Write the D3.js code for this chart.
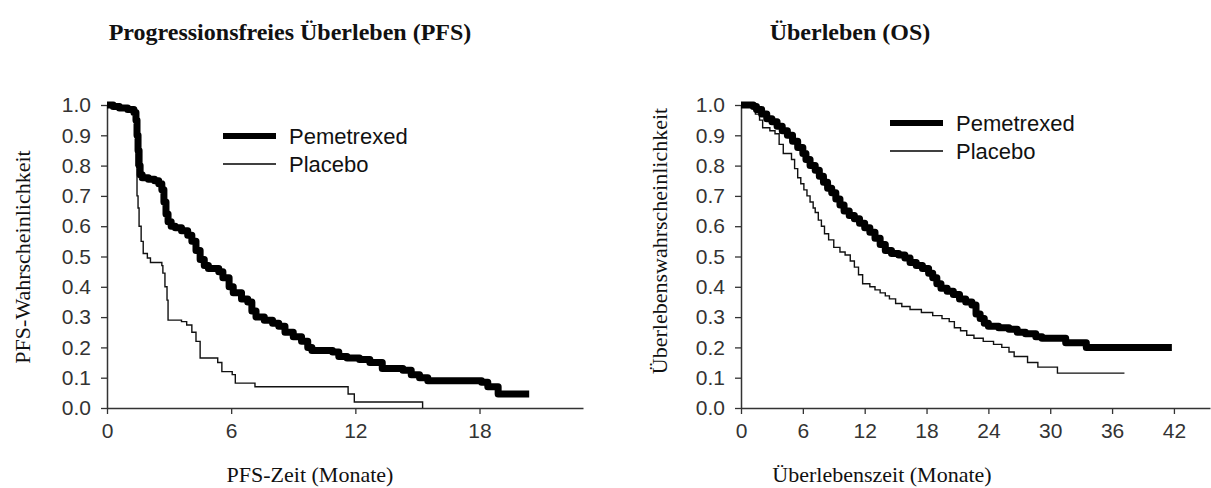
<!DOCTYPE html>
<html>
<head>
<meta charset="utf-8">
<script src="https://cdn.jsdelivr.net/npm/d3@7"></script>
<style>
  body { margin: 0; background: #fff; }
  svg text { fill: #111; }
</style>
</head>
<body>
<svg id="chart" width="1211" height="488"></svg>
<script>
// PFS: Pemetrexed
var pfs_pem_t = [0, 0.3, 0.6, 1.0, 1.3, 1.4, 1.45, 1.5, 1.55, 1.6, 1.7, 2.0, 2.3, 2.5, 2.65, 2.75, 2.85, 2.95, 3.1, 3.3, 3.6, 3.9, 4.1, 4.3, 4.5, 4.7, 4.9, 5.4, 5.6, 5.9, 6.1, 6.5, 6.8, 7.0, 7.2, 7.6, 8.0, 8.3, 8.6, 9.0, 9.4, 9.7, 9.9, 10.9, 11.2, 11.6, 12.2, 12.7, 13.3, 14.3, 14.7, 15.1, 15.5, 18.1, 18.4, 18.9];
var pfs_pem_s = [1.0, 0.995, 0.99, 0.985, 0.975, 0.95, 0.9, 0.85, 0.8, 0.77, 0.76, 0.755, 0.75, 0.74, 0.72, 0.68, 0.64, 0.615, 0.6, 0.595, 0.585, 0.57, 0.55, 0.52, 0.49, 0.47, 0.46, 0.45, 0.43, 0.4, 0.38, 0.36, 0.35, 0.32, 0.3, 0.29, 0.28, 0.27, 0.25, 0.235, 0.22, 0.2, 0.19, 0.185, 0.17, 0.165, 0.16, 0.15, 0.13, 0.125, 0.11, 0.1, 0.09, 0.085, 0.07, 0.046];
var pfs_pem_end = 20.4;

// PFS: Placebo
var pfs_pla_t = [0, 0.5, 1.0, 1.35, 1.4, 1.45, 1.5, 1.55, 1.65, 1.75, 1.95, 2.1, 2.65, 2.7, 2.8, 2.9, 2.95, 3.6, 3.85, 4.1, 4.3, 4.5, 5.35, 5.55, 6.05, 6.2, 7.15, 11.65, 11.95, 15.25];
var pfs_pla_s = [1.0, 0.99, 0.985, 0.97, 0.8, 0.7, 0.66, 0.6, 0.55, 0.51, 0.495, 0.48, 0.47, 0.445, 0.4, 0.356, 0.29, 0.285, 0.274, 0.25, 0.22, 0.165, 0.15, 0.12, 0.11, 0.082, 0.07, 0.046, 0.02, 0.0];
var pfs_pla_end = 15.25;

// OS: Pemetrexed
var os_pem_t = [0, 1.2, 1.5, 2.0, 2.5, 3.0, 3.5, 4.0, 4.5, 5.0, 5.5, 6.0, 6.3, 6.7, 7.2, 7.6, 8.0, 8.4, 8.8, 9.2, 9.6, 10.0, 10.5, 11.0, 11.5, 12.0, 12.5, 13.0, 13.5, 14.0, 14.6, 15.3, 15.9, 16.4, 17.0, 17.6, 18.2, 18.6, 19.0, 19.4, 20.0, 20.6, 21.2, 21.8, 22.4, 22.8, 23.2, 23.6, 24.0, 25.0, 26.0, 26.8, 27.6, 28.6, 29.2, 31.5, 33.5];
var os_pem_s = [1.0, 0.995, 0.985, 0.97, 0.955, 0.945, 0.93, 0.915, 0.9, 0.88, 0.86, 0.84, 0.82, 0.8, 0.785, 0.765, 0.745, 0.725, 0.71, 0.69, 0.67, 0.65, 0.635, 0.625, 0.61, 0.595, 0.58, 0.56, 0.54, 0.52, 0.51, 0.505, 0.495, 0.48, 0.47, 0.46, 0.445, 0.43, 0.41, 0.395, 0.385, 0.375, 0.36, 0.35, 0.34, 0.31, 0.295, 0.28, 0.27, 0.265, 0.26, 0.25, 0.245, 0.235, 0.23, 0.215, 0.2];
var os_pem_end = 41.8;

// OS: Placebo
var os_pla_t = [0, 1.0, 1.4, 1.8, 2.1, 2.8, 3.3, 3.7, 4.1, 4.9, 5.2, 5.5, 5.8, 6.1, 6.4, 6.7, 7.0, 7.2, 7.5, 7.8, 8.1, 8.5, 9.0, 9.6, 10.1, 10.6, 11.0, 11.4, 11.8, 12.5, 13.0, 13.5, 14.0, 14.4, 15.0, 15.6, 16.4, 17.5, 18.6, 19.5, 20.2, 20.7, 21.3, 21.9, 22.6, 23.5, 24.5, 25.3, 26.0, 26.5, 27.8, 28.8, 30.7];
var os_pla_s = [1.0, 0.99, 0.97, 0.95, 0.925, 0.915, 0.905, 0.87, 0.84, 0.82, 0.79, 0.76, 0.74, 0.72, 0.7, 0.68, 0.66, 0.645, 0.62, 0.6, 0.575, 0.555, 0.53, 0.515, 0.505, 0.485, 0.465, 0.44, 0.41, 0.4, 0.39, 0.38, 0.37, 0.36, 0.345, 0.335, 0.325, 0.315, 0.305, 0.295, 0.285, 0.265, 0.255, 0.24, 0.23, 0.22, 0.21, 0.2, 0.185, 0.17, 0.15, 0.135, 0.115];
var os_pla_end = 37.2;

var y_ticks   = [0, 0.1, 0.2, 0.3, 0.4, 0.5, 0.6, 0.7, 0.8, 0.9, 1.0];
var pfs_ticks = [0, 6, 12, 18];
var os_ticks  = [0, 6, 12, 18, 24, 30, 36, 42];
var series_names = ['Pemetrexed', 'Placebo'];

var svg = d3.select('#chart');
var serif = 'Liberation Serif, Times New Roman, serif';
var sans  = 'Liberation Sans, Arial, sans-serif';

function steps(t, s, end) {
  var pts = t.map(function(d, i) { return [d, s[i]]; });
  pts.push([end, s[s.length - 1]]);
  return pts;
}

function panel(opt) {
  var x = d3.scaleLinear().domain(opt.xdom).range(opt.xrange);
  var y = d3.scaleLinear().domain([0, 1]).range([408, 105]);

  var g = svg.append('g');

  var xa = g.append('g')
    .attr('transform', 'translate(0,408)')
    .call(d3.axisBottom(x).tickValues(opt.xticks).tickSize(6).tickSizeOuter(0).tickPadding(9));
  var ya = g.append('g')
    .attr('transform', 'translate(' + opt.xrange[0] + ',0)')
    .call(d3.axisLeft(y).tickValues(y_ticks).tickFormat(d3.format('.1f')).tickSize(6).tickSizeOuter(0).tickPadding(10));

  [xa, ya].forEach(function(a) {
    a.select('.domain').attr('stroke', '#333').attr('stroke-width', 1.5);
    a.selectAll('.tick line').attr('stroke', '#333').attr('stroke-width', 1.3);
    a.selectAll('.tick text')
      .style('font-family', sans)
      .style('font-size', '21px')
      .style('fill', '#333');
  });

  var line = d3.line()
    .x(function(d) { return x(d[0]); })
    .y(function(d) { return y(d[1]); })
    .curve(d3.curveStepAfter);

  g.append('path')
    .attr('d', line(opt.pla))
    .attr('fill', 'none')
    .attr('stroke', '#111')
    .attr('stroke-width', 1.4);

  g.append('path')
    .attr('d', line(opt.pem))
    .attr('fill', 'none')
    .attr('stroke', '#000')
    .attr('stroke-width', 7)
    .attr('stroke-linejoin', 'round');

  // legend
  var lg = g.append('g').attr('transform', 'translate(' + opt.legend[0] + ',' + opt.legend[1] + ')');
  lg.selectAll('line').data(series_names).enter().append('line')
    .attr('x1', 0).attr('x2', 53)
    .attr('y1', function(d, i) { return i * 28; })
    .attr('y2', function(d, i) { return i * 28; })
    .attr('stroke', '#000')
    .attr('stroke-width', function(d, i) { return i === 0 ? 6 : 1.4; });
  lg.selectAll('text').data(series_names).enter().append('text')
    .attr('x', 66)
    .attr('y', function(d, i) { return i * 28 + 8; })
    .text(function(d) { return d; })
    .style('font-family', sans)
    .style('font-size', '22px');

  g.append('text')
    .attr('x', opt.title[0]).attr('y', 40)
    .attr('text-anchor', 'middle')
    .text(opt.title[1])
    .style('font-family', serif)
    .style('font-weight', 'bold')
    .style('font-size', '24px');

  g.append('text')
    .attr('x', opt.xtitle[0]).attr('y', 482)
    .attr('text-anchor', 'middle')
    .text(opt.xtitle[1])
    .style('font-family', serif)
    .style('font-size', '22px');

  g.append('text')
    .attr('transform', 'translate(' + opt.ytitle[0] + ',' + opt.ytitle[1] + ') rotate(-90)')
    .attr('text-anchor', 'middle')
    .text(opt.ytitle[2])
    .style('font-family', serif)
    .style('font-size', '22px');
}

panel({
  xdom: [0, 23], xrange: [107, 583], xticks: pfs_ticks,
  pem: steps(pfs_pem_t, pfs_pem_s, pfs_pem_end),
  pla: steps(pfs_pla_t, pfs_pla_s, pfs_pla_end),
  legend: [223, 136],
  title: [290, 'Progressionsfreies Überleben (PFS)'],
  xtitle: [310, 'PFS-Zeit (Monate)'],
  ytitle: [30, 257, 'PFS-Wahrscheinlichkeit']
});

panel({
  xdom: [0, 45.5], xrange: [741, 1210], xticks: os_ticks,
  pem: steps(os_pem_t, os_pem_s, os_pem_end),
  pla: steps(os_pla_t, os_pla_s, os_pla_end),
  legend: [890, 123],
  title: [850, 'Überleben (OS)'],
  xtitle: [882, 'Überlebenszeit (Monate)'],
  ytitle: [667, 241, 'Überlebenswahrscheinlichkeit']
});
</script>
</body>
</html>
